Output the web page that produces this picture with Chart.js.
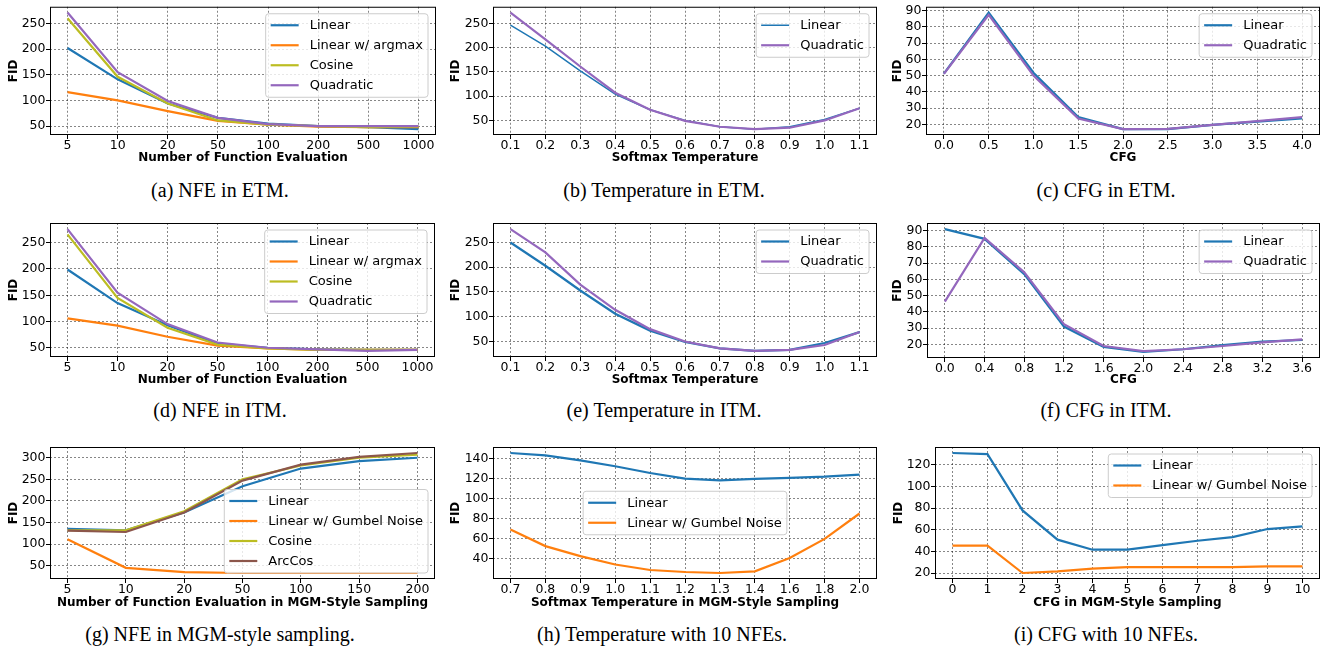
<!DOCTYPE html>
<html lang="en">
<head>
  <meta charset="UTF-8">
  <title>FID ablations</title>
  <style>
    body {
      margin: 0;
      background: #fff;
    }
    .page {
      position: relative;
      width: 1332px;
      height: 648px;
      overflow: hidden;
    }
    canvas {
      position: absolute;
    }
    .cap {
      position: absolute;
      width: 444px;
      text-align: center;
      font-family: "Liberation Serif", serif;
      font-size: 20px;
      line-height: 24px;
      color: #000;
    }
  </style>
</head>
<body>
<div class="page">
  <canvas id="cA" width="444" height="175" style="left:0;top:0"></canvas>
  <canvas id="cB" width="444" height="175" style="left:444px;top:0"></canvas>
  <canvas id="cC" width="444" height="175" style="left:888px;top:0"></canvas>
  <canvas id="cD" width="444" height="175" style="left:0;top:215px"></canvas>
  <canvas id="cE" width="444" height="175" style="left:444px;top:215px"></canvas>
  <canvas id="cF" width="444" height="175" style="left:888px;top:215px"></canvas>
  <canvas id="cG" width="444" height="175" style="left:0;top:440px"></canvas>
  <canvas id="cH" width="444" height="175" style="left:444px;top:440px"></canvas>
  <canvas id="cI" width="444" height="175" style="left:888px;top:440px"></canvas>

  <div class="cap" style="left:-2px;top:178px">(a) NFE in ETM.</div>
  <div class="cap" style="left:442px;top:178px">(b) Temperature in ETM.</div>
  <div class="cap" style="left:884px;top:178px">(c) CFG in ETM.</div>
  <div class="cap" style="left:-2px;top:398px">(d) NFE in ITM.</div>
  <div class="cap" style="left:442px;top:398px">(e) Temperature in ITM.</div>
  <div class="cap" style="left:884px;top:398px">(f) CFG in ITM.</div>
  <div class="cap" style="left:-2px;top:622px">(g) NFE in MGM-style sampling.</div>
  <div class="cap" style="left:440px;top:622px">(h) Temperature with 10 NFEs.</div>
  <div class="cap" style="left:884px;top:622px">(i) CFG with 10 NFEs.</div>
</div>

<script src="https://cdn.jsdelivr.net/npm/chart.js"></script>
<script>
  // x tick labels
  const nfeSteps = ['5', '10', '20', '50', '100', '200', '500', '1000'];
  const tempSteps = ['0.1', '0.2', '0.3', '0.4', '0.5', '0.6', '0.7', '0.8', '0.9', '1.0', '1.1'];
  const cfgEtmSteps = ['0.0', '0.5', '1.0', '1.5', '2.0', '2.5', '3.0', '3.5', '4.0'];
  const cfgItmSteps = ['0.0', '0.4', '0.8', '1.2', '1.6', '2.0', '2.4', '2.8', '3.2', '3.6'];
  const nfeMgmSteps = ['5', '10', '20', '50', '100', '150', '200'];
  const tempMgmSteps = ['0.7', '0.8', '0.9', '1.0', '1.1', '1.2', '1.3', '1.4', '1.6', '1.8', '2.0'];
  const cfgMgmSteps = ['0', '1', '2', '3', '4', '5', '6', '7', '8', '9', '10'];

  // y tick values
  const fidTicks250 = [50, 100, 150, 200, 250];
  const fidTicks90 = [20, 30, 40, 50, 60, 70, 80, 90];
  const fidTicks300 = [50, 100, 150, 200, 250, 300];
  const fidTicks140 = [40, 60, 80, 100, 120, 140];
  const fidTicks120 = [20, 40, 60, 80, 100, 120];

  // (a) NFE in ETM
  const etmNfeLinear = [202, 141, 94, 66, 55, 50, 48, 44];
  const etmNfeArgmax = [116, 100, 79, 60, 53, 49, 48, 48];
  const etmNfeCosine = [260, 146, 94, 61, 53, 50, 48, 49];
  const etmNfeQuadratic = [271, 155, 99, 66, 54, 50, 50, 50];
  // (b) Temperature in ETM
  const etmTempLinear = [246, 203, 152, 104, 72, 50, 37, 32, 37, 52, 75];
  const etmTempQuadratic = [272, 217, 161, 107, 72, 49, 37, 32, 35, 50, 75];
  // (c) CFG in ETM
  const etmCfgLinear = [51.2, 88.8, 51.8, 24.4, 17, 17, 19.6, 21.6, 23.6];
  const etmCfgQuadratic = [51, 87.4, 50, 23.6, 17, 17.2, 19.6, 22, 24.4];
  // (d) NFE in ITM
  const itmNfeLinear = [199, 135, 93, 58, 50, 47, 46, 46];
  const itmNfeArgmax = [106, 92, 71, 54, 49, 46, 46, 46];
  const itmNfeCosine = [266, 145, 88, 56, 49, 46, 46, 46];
  const itmNfeQuadratic = [276, 155, 95, 60, 50, 47, 44, 46];
  // (e) Temperature in ITM
  const itmTempLinear = [250, 203, 153, 106, 72, 49, 36, 31, 33, 47, 69];
  const itmTempQuadratic = [277, 230, 165, 114, 75, 50, 36, 31, 33, 43, 69];
  // (f) CFG in ITM
  const itmCfgLinear = [91, 85, 63.3, 31, 18.5, 15.4, 17, 19.6, 21.7, 22.7];
  const itmCfgQuadratic = [46.3, 85.6, 64.4, 32.5, 19, 15.8, 17, 19, 21.3, 23.1];
  // (g) NFE in MGM-style sampling
  const mgmNfeLinear = [135, 132, 173, 234, 275, 292, 300];
  const mgmNfeGumbel = [111, 45, 35, 33, 33, 33, 33];
  const mgmNfeCosine = [132, 132, 176, 250, 282, 300, 307];
  const mgmNfeArcCos = [131, 128, 173, 247, 284, 302, 311];
  // (h) Temperature with 10 NFEs
  const mgmTempLinear = [145.6, 143.3, 138.3, 132.4, 125.7, 120, 118.4, 119.8, 120.8, 122, 124];
  const mgmTempGumbel = [69.3, 52.8, 42.8, 34.5, 29, 27, 26, 27.6, 41, 60, 85.3];
  // (i) CFG with 10 NFEs
  const mgmCfgLinear = [130.8, 129.8, 77.8, 50.8, 41.5, 41.5, 45.8, 49.8, 53.2, 60.6, 63];
  const mgmCfgGumbel = [45.2, 45.2, 20, 21.5, 24, 25.5, 25.5, 25.5, 25.5, 26.2, 26.2];

  const blue = '#1f77b4', orange = '#ff7f0e', olive = '#bcbd22', purple = '#9467bd', brown = '#8c564b';

  Chart.defaults.font.family = '"DejaVu Sans", sans-serif';
  Chart.defaults.color = '#000';

  // matplotlib-like frame + legend inside the axes
  const mplPlugin = {
    id: 'mpl',
    afterDatasetsDraw(chart, args, opts) {
      const a = chart.chartArea, ctx = chart.ctx;
      ctx.save();
      ctx.strokeStyle = '#000';
      ctx.lineWidth = 1;
      ctx.strokeRect(a.left + 0.5, a.top + 0.5, a.right - a.left - 1, a.bottom - a.top - 1);

      const items = chart.data.datasets;
      ctx.font = '13px "DejaVu Sans"';
      const textW = Math.max(...items.map(d => ctx.measureText(d.label).width));
      const rowH = 20, pad = 5, handle = 28, gap = 11;
      const w = pad + handle + gap + textW + pad;
      const h = items.length * rowH + 3.5;
      let x, y;
      if (opts.loc === 'lower right') {
        x = a.right - 7 - w; y = a.bottom - 6 - h;
      } else if (opts.loc === 'center') {
        x = (a.left + a.right) / 2 - w / 2; y = (a.top + a.bottom) / 2 - h / 2;
      } else {
        x = a.right - 8 - w; y = a.top + 7;
      }
      const r = 3;
      ctx.beginPath();
      ctx.moveTo(x + r, y);
      ctx.arcTo(x + w, y, x + w, y + h, r);
      ctx.arcTo(x + w, y + h, x, y + h, r);
      ctx.arcTo(x, y + h, x, y, r);
      ctx.arcTo(x, y, x + w, y, r);
      ctx.closePath();
      ctx.fillStyle = 'rgba(255,255,255,0.8)';
      ctx.fill();
      ctx.strokeStyle = '#cccccc';
      ctx.lineWidth = 1;
      ctx.stroke();

      items.forEach((d, i) => {
        const cy = y + 1.5 + rowH * (i + 0.5);
        ctx.beginPath();
        ctx.strokeStyle = d.borderColor;
        ctx.lineWidth = d.borderWidth;
        ctx.moveTo(x + pad, cy);
        ctx.lineTo(x + pad + handle, cy);
        ctx.stroke();
        ctx.fillStyle = '#000';
        ctx.textBaseline = 'middle';
        ctx.textAlign = 'left';
        ctx.fillText(d.label, x + pad + handle + gap, cy + 0.5);
      });
      ctx.restore();
    }
  };

  function makeChart(p) {
    const W = 444, H = 175;
    const all = p.series.flatMap(s => s.data);
    const lo = Math.min(...all), hi = Math.max(...all);
    const m = (hi - lo) * 0.05;
    const n = p.xLabels.length;

    const datasets = p.series.map((s, i) => ({
      label: s.label,
      data: s.data.map((v, k) => ({x: k, y: v})),
      borderColor: s.color,
      backgroundColor: s.color,
      borderWidth: s.width || 2.2,
      pointRadius: 0,
      tension: 0,
      order: p.series.length - i
    }));

    const gridOpts = {
      color: 'rgba(0,0,0,0.6)',
      lineWidth: 0.8,
      drawTicks: true,
      tickLength: 4,
      tickColor: '#000',
      tickWidth: 1,
      tickBorderDash: []
    };

    return new Chart(document.getElementById(p.id), {
      type: 'line',
      data: { datasets },
      options: {
        responsive: false,
        animation: false,
        devicePixelRatio: 1,
        layout: {
          padding: { left: 0, top: p.area.t - p.row, right: p.col + W - p.area.r, bottom: 0 }
        },
        plugins: {
          legend: { display: false },
          tooltip: { enabled: false },
          mpl: { loc: p.loc }
        },
        scales: {
          x: {
            type: 'linear',
            min: -0.05 * (n - 1),
            max: (n - 1) * 1.05,
            grid: gridOpts,
            border: { display: false, dash: [2, 2] },
            ticks: {
              autoSkip: false,
              maxRotation: 0,
              padding: 0,
              font: { size: 12.5, lineHeight: 1 },
              callback: v => p.xLabels[v]
            },
            afterBuildTicks: axis => { axis.ticks = p.xLabels.map((_, k) => ({ value: k })); },
            afterFit: axis => { axis.height = p.row + H - p.area.b; },
            title: {
              display: true,
              text: p.xTitle,
              font: { size: 12, weight: 'bold', lineHeight: 1.2 },
              padding: { top: 0, bottom: p.row + H - (p.area.b + p.xTitleGap) - 7.2 }
            }
          },
          y: {
            type: 'linear',
            min: lo - m,
            max: hi + m,
            grid: gridOpts,
            border: { display: false, dash: [2, 2] },
            ticks: {
              padding: 0.5,
              font: { size: 12.5, lineHeight: 1 }
            },
            afterBuildTicks: axis => { axis.ticks = p.yTicks.map(v => ({ value: v })); },
            afterFit: axis => { axis.width = p.area.l - p.col; },
            title: {
              display: true,
              text: 'FID',
              font: { size: 12, weight: 'bold', lineHeight: 1.2 },
              padding: { top: p.yTitleX - p.col - 7.2, bottom: 0 }
            }
          }
        }
      },
      plugins: [mplPlugin]
    });
  }

  const panels = [
    { id: 'cA', col: 0, row: 0, area: { l: 50, t: 3, r: 436, b: 135 }, xTitleGap: 23, yTitleX: 14,
      xLabels: nfeSteps, yTicks: fidTicks250, xTitle: 'Number of Function Evaluation', loc: 'upper right',
      series: [
        { label: 'Linear', data: etmNfeLinear, color: blue },
        { label: 'Linear w/ argmax', data: etmNfeArgmax, color: orange },
        { label: 'Cosine', data: etmNfeCosine, color: olive },
        { label: 'Quadratic', data: etmNfeQuadratic, color: purple }
      ] },
    { id: 'cB', col: 444, row: 0, area: { l: 493, t: 3, r: 877, b: 135 }, xTitleGap: 23, yTitleX: 456,
      xLabels: tempSteps, yTicks: fidTicks250, xTitle: 'Softmax Temperature', loc: 'upper right',
      series: [
        { label: 'Linear', data: etmTempLinear, color: blue, width: 1.5 },
        { label: 'Quadratic', data: etmTempQuadratic, color: purple }
      ] },
    { id: 'cC', col: 888, row: 0, area: { l: 926, t: 3, r: 1320, b: 135 }, xTitleGap: 23, yTitleX: 898,
      xLabels: cfgEtmSteps, yTicks: fidTicks90, xTitle: 'CFG', loc: 'upper right',
      series: [
        { label: 'Linear', data: etmCfgLinear, color: blue },
        { label: 'Quadratic', data: etmCfgQuadratic, color: purple }
      ] },
    { id: 'cD', col: 0, row: 215, area: { l: 50, t: 223, r: 435, b: 357 }, xTitleGap: 23, yTitleX: 14,
      xLabels: nfeSteps, yTicks: fidTicks250, xTitle: 'Number of Function Evaluation', loc: 'upper right',
      series: [
        { label: 'Linear', data: itmNfeLinear, color: blue },
        { label: 'Linear w/ argmax', data: itmNfeArgmax, color: orange },
        { label: 'Cosine', data: itmNfeCosine, color: olive },
        { label: 'Quadratic', data: itmNfeQuadratic, color: purple }
      ] },
    { id: 'cE', col: 444, row: 215, area: { l: 493, t: 223, r: 877, b: 357 }, xTitleGap: 23, yTitleX: 456,
      xLabels: tempSteps, yTicks: fidTicks250, xTitle: 'Softmax Temperature', loc: 'upper right',
      series: [
        { label: 'Linear', data: itmTempLinear, color: blue },
        { label: 'Quadratic', data: itmTempQuadratic, color: purple }
      ] },
    { id: 'cF', col: 888, row: 215, area: { l: 927, t: 223, r: 1320, b: 358 }, xTitleGap: 22, yTitleX: 898,
      xLabels: cfgItmSteps, yTicks: fidTicks90, xTitle: 'CFG', loc: 'upper right',
      series: [
        { label: 'Linear', data: itmCfgLinear, color: blue },
        { label: 'Quadratic', data: itmCfgQuadratic, color: purple }
      ] },
    { id: 'cG', col: 0, row: 440, area: { l: 50, t: 447, r: 435, b: 579 }, xTitleGap: 24, yTitleX: 14,
      xLabels: nfeMgmSteps, yTicks: fidTicks300, xTitle: 'Number of Function Evaluation in MGM-Style Sampling', loc: 'lower right',
      series: [
        { label: 'Linear', data: mgmNfeLinear, color: blue },
        { label: 'Linear w/ Gumbel Noise', data: mgmNfeGumbel, color: orange },
        { label: 'Cosine', data: mgmNfeCosine, color: olive },
        { label: 'ArcCos', data: mgmNfeArcCos, color: brown }
      ] },
    { id: 'cH', col: 444, row: 440, area: { l: 493, t: 447, r: 877, b: 579 }, xTitleGap: 24, yTitleX: 456,
      xLabels: tempMgmSteps, yTicks: fidTicks140, xTitle: 'Softmax Temperature in MGM-Style Sampling', loc: 'center',
      series: [
        { label: 'Linear', data: mgmTempLinear, color: blue },
        { label: 'Linear w/ Gumbel Noise', data: mgmTempGumbel, color: orange }
      ] },
    { id: 'cI', col: 888, row: 440, area: { l: 935, t: 447, r: 1320, b: 579 }, xTitleGap: 24, yTitleX: 899,
      xLabels: cfgMgmSteps, yTicks: fidTicks120, xTitle: 'CFG in MGM-Style Sampling', loc: 'upper right',
      series: [
        { label: 'Linear', data: mgmCfgLinear, color: blue },
        { label: 'Linear w/ Gumbel Noise', data: mgmCfgGumbel, color: orange }
      ] }
  ];

  panels.forEach(makeChart);
</script>
</body>
</html>
